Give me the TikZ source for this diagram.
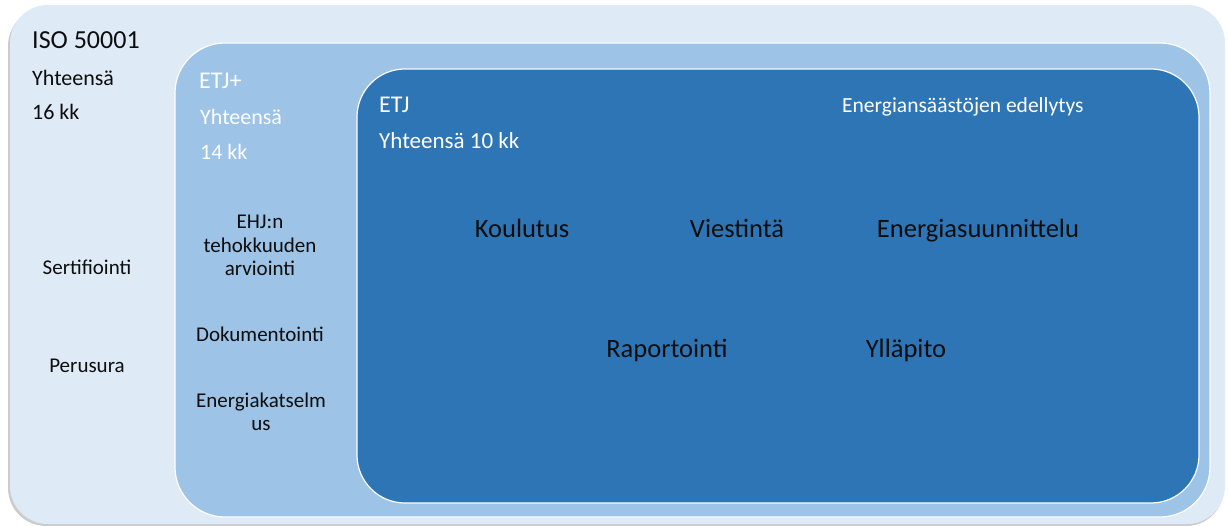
\documentclass[tikz,border=0pt]{standalone}
\usepackage{fontspec}
\setmainfont{Carlito}
\usetikzlibrary{positioning}

\definecolor{isofill}{HTML}{DEEAF6}
\definecolor{etjpfill}{HTML}{9DC3E6}
\definecolor{etjfill}{HTML}{2E75B6}
\definecolor{inktxt}{HTML}{0D0D0D}

\tikzset{
	lbl/.style={anchor=base west,inner sep=0pt,font=\fontsize{22}{26}\selectfont,text=inktxt},
	col/.style={anchor=base,inner sep=0pt,align=center,font=\fontsize{21}{23.5}\selectfont,text=inktxt},
	task/.style={anchor=base,inner sep=0pt,font=\fontsize{26.5}{30}\selectfont,text=inktxt},
	layer/.style={draw=white,line width=1.2pt,rounded corners=#1}
}

\begin{document}
\begin{tikzpicture}[x=1pt,y=-1pt]
	\useasboundingbox (0,0) rectangle (1229,526);

	% ISO 50001
	\fill[black!20,rounded corners=38pt] (8,8) rectangle (1224,526);
	\fill[isofill,rounded corners=38pt] (10,5) rectangle (1225,524);
	% ETJ+
	\filldraw[layer=50pt,fill=etjpfill] (175,43) rectangle (1210,517);
	% ETJ
	\filldraw[layer=48pt,fill=etjfill] (357,69) rectangle (1199,503);

	\node[lbl,font=\fontsize{26}{30}\selectfont] (iso) at (32,49) {ISO 50001};
	\node[lbl] (isoSum) at (32,86) {Yhteensä};
	\node[lbl] (isoKk) at (32,120) {16 kk};
	\node[col] (sert) at (87,275) {Sertifiointi};
	\node[col] (peru) at (87,373) {Perusura};

	\node[lbl,text=white,font=\fontsize{24}{28}\selectfont] (etjp) at (199,89) {ETJ+};
	\node[lbl,text=white] (etjpSum) at (200,125) {Yhteensä};
	\node[lbl,text=white] (etjpKk) at (200,160) {14 kk};
	% base = last line
	\node[col] (ehj) at (260,276) {EHJ:n\\tehokkuuden\\arviointi};
	\node[col] (doku) at (260,342) {Dokumentointi};
	\node[col] (katselmus) at (261,431) {Energiakatselm\\us};

	\node[lbl,text=white,font=\fontsize{24}{28}\selectfont] (etj) at (379,113) {ETJ};
	\node[lbl,text=white,font=\fontsize{23}{27}\selectfont] (etjSum) at (379,149) {Yhteensä 10 kk};
	\node[lbl,text=white,font=\fontsize{21.5}{26}\selectfont] (edell) at (842,113) {Energiansäästöjen edellytys};

	\foreach \n/\x/\y/\t in {koul/522/238/Koulutus,vies/737/238/Viestintä,suun/978/238/Energiasuunnittelu,rap/667/358/Raportointi,yll/906/358/Ylläpito}
		\node[task] (\n) at (\x,\y) {\t};
\end{tikzpicture}
\end{document}
